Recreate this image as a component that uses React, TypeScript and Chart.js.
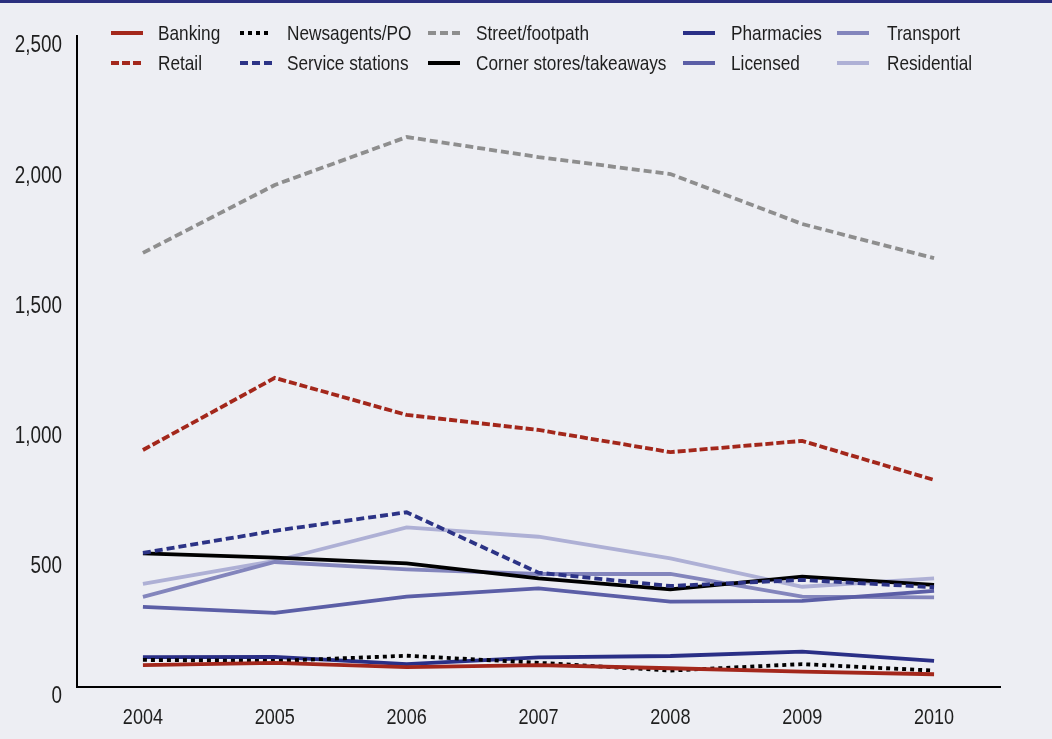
import React, { useEffect, useRef } from "react";
import { Chart, registerables } from "chart.js";

Chart.register(...registerables);

const years = ["2004", "2005", "2006", "2007", "2008", "2009", "2010"];
const banking = [84, 93, 76, 84, 72, 59, 49];
const retail = [910, 1187, 1045, 987, 902, 945, 795];
const newsagents = [104, 100, 120, 93, 63, 88, 63];
const serviceStations = [515, 600, 671, 439, 388, 411, 383];
const streetFootpath = [1667, 1928, 2112, 2035, 1970, 1778, 1647];
const cornerStores = [513, 497, 475, 417, 375, 424, 392];
const pharmacies = [115, 116, 88, 114, 119, 136, 100];
const licensed = [308, 285, 347, 379, 328, 331, 369];
const transport = [346, 480, 452, 434, 434, 347, 344];
const residential = [396, 484, 613, 577, 494, 385, 417];
const yTickValues = [0, 500, 1000, 1500, 2000, 2500];

const FONT = '"Liberation Sans", Arial, Helvetica, sans-serif';
const NARROW = 0.82;
const BG = "#edeef3";
const TEXT = "#1e1e1e";

type Series = {
  label: string;
  data: number[];
  color: string;
  dash: number[];
  col: number;
  row: number;
};

const series: Series[] = [
  { label: "Banking", data: banking, color: "#a3271b", dash: [], col: 0, row: 0 },
  { label: "Retail", data: retail, color: "#a3271b", dash: [8, 3], col: 0, row: 1 },
  { label: "Newsagents/PO", data: newsagents, color: "#000000", dash: [4, 4], col: 1, row: 0 },
  { label: "Service stations", data: serviceStations, color: "#2c3386", dash: [8, 4], col: 1, row: 1 },
  { label: "Street/footpath", data: streetFootpath, color: "#8e8e8e", dash: [8, 4], col: 2, row: 0 },
  { label: "Corner stores/takeaways", data: cornerStores, color: "#000000", dash: [], col: 2, row: 1 },
  { label: "Pharmacies", data: pharmacies, color: "#2a2f86", dash: [], col: 3, row: 0 },
  { label: "Licensed", data: licensed, color: "#5b5ea6", dash: [], col: 3, row: 1 },
  { label: "Transport", data: transport, color: "#8385bc", dash: [], col: 4, row: 0 },
  { label: "Residential", data: residential, color: "#aeb0d5", dash: [], col: 4, row: 1 },
];

const legendCols = [
  { sx: 111, tx: 158 },
  { sx: 240, tx: 287 },
  { sx: 428, tx: 476 },
  { sx: 683, tx: 731 },
  { sx: 837, tx: 887 },
];
const legendRows = [33, 63];

const narrowLabels = {
  id: "narrowLabels",
  afterDraw(chart: any) {
    const ctx = chart.ctx as CanvasRenderingContext2D;
    const xs = chart.scales.x;
    const ys = chart.scales.y;
    ctx.save();
    ctx.fillStyle = TEXT;
    ctx.textBaseline = "middle";
    ctx.font = `23px ${FONT}`;
    yTickValues.forEach((v) => {
      const py = ys.getPixelForValue(v) + 10;
      ctx.save();
      ctx.translate(62, py);
      ctx.scale(NARROW, 1);
      ctx.textAlign = "right";
      ctx.fillText(v.toLocaleString("en-US"), 0, 0);
      ctx.restore();
    });
    ctx.font = `22px ${FONT}`;
    years.forEach((lab, i) => {
      const px = xs.getPixelForValue(i);
      ctx.save();
      ctx.translate(px, 718);
      ctx.scale(NARROW, 1);
      ctx.textAlign = "center";
      ctx.fillText(lab, 0, 0);
      ctx.restore();
    });
    ctx.restore();
  },
};

export default function App() {
  const canvasRef = useRef<HTMLCanvasElement | null>(null);

  useEffect(() => {
    if (!canvasRef.current) return;
    const chart = new Chart(canvasRef.current, {
      type: "line",
      data: {
        labels: years,
        datasets: series.map((s) => ({
          label: s.label,
          data: s.data,
          borderColor: s.color,
          backgroundColor: s.color,
          borderDash: s.dash,
          borderWidth: 3.8,
          pointRadius: 0,
          pointHoverRadius: 0,
          tension: 0,
          fill: false,
        })),
      },
      options: {
        responsive: true,
        maintainAspectRatio: false,
        animation: false,
        layout: { padding: { top: 36, right: 52, left: 0, bottom: 0 } },
        plugins: {
          legend: { display: false },
          tooltip: { enabled: false },
          title: { display: false },
        },
        scales: {
          x: {
            type: "category",
            offset: true,
            grid: { display: false },
            border: { display: true, color: "#000", width: 2 },
            ticks: { display: false },
            afterFit: (scale: any) => {
              scale.height = 52;
            },
          },
          y: {
            min: 0,
            max: 2500,
            grid: { display: false },
            border: { display: true, color: "#000", width: 2 },
            afterBuildTicks: (scale: any) => {
              scale.ticks = yTickValues.map((v) => ({ value: v }));
            },
            ticks: { display: false },
            afterFit: (scale: any) => {
              scale.width = 77;
            },
          },
        },
      },
      plugins: [narrowLabels],
    });
    return () => chart.destroy();
  }, []);

  return (
    <div
      style={{
        position: "fixed",
        left: 0,
        top: 0,
        width: 1052,
        height: 739,
        background: BG,
        overflow: "hidden",
      }}
    >
      <div style={{ position: "absolute", left: 0, top: 0, width: 1052, height: 3, background: "#2b2f7e" }} />
      <canvas ref={canvasRef} style={{ position: "absolute", left: 0, top: 0, width: 1052, height: 739 }} />
      {series.map((s) => {
        const c = legendCols[s.col];
        const y = legendRows[s.row];
        return (
          <React.Fragment key={s.label}>
            <svg width={34} height={8} style={{ position: "absolute", left: c.sx, top: y - 4 }}>
              <line
                x1={0}
                y1={4}
                x2={32}
                y2={4}
                stroke={s.color}
                strokeWidth={4}
                strokeDasharray={s.dash.length ? s.dash.join(" ") : undefined}
              />
            </svg>
            <div
              style={{
                position: "absolute",
                left: c.tx,
                top: y - 13,
                height: 26,
                lineHeight: "26px",
                fontFamily: FONT,
                fontSize: 21,
                color: TEXT,
                whiteSpace: "nowrap",
                transform: `scaleX(${NARROW})`,
                transformOrigin: "left center",
              }}
            >
              {s.label}
            </div>
          </React.Fragment>
        );
      })}
    </div>
  );
}
